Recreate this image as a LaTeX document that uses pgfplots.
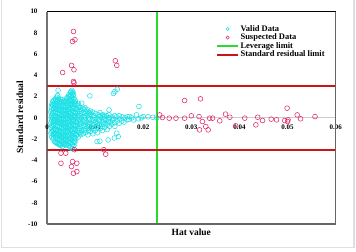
\documentclass[border=0pt]{standalone}
\usepackage{fontspec}
\setmainfont{Liberation Serif}
\usepackage{pgfplots}
\pgfplotsset{compat=1.18}
\definecolor{cyanpt}{RGB}{30,225,230}
\definecolor{magpt}{RGB}{225,40,110}
\definecolor{redln}{RGB}{205,20,20}
\definecolor{grnln}{RGB}{40,220,40}
\pgfplotsset{
 markleg/.style={legend image code/.code={\draw[##1, mark size=1.6bp] plot coordinates {(10.5bp,0bp)};}},
 lineleg/.style={legend image code/.code={\draw[##1] (0bp,0bp) -- (21bp,0bp);}}
}
\begin{document}
\begin{tikzpicture}[x=1bp,y=1bp]
\useasboundingbox (0,0) rectangle (356,252);
\draw[gray!25, line width=1.2bp] (1.5,260) -- (1.5,4.3) -- (354,4.3) -- (354,260);
\begin{axis}[
 at={(47bp,28bp)}, anchor=south west,
 scale only axis, width=288.7bp, height=212.3bp,
 xmin=0, xmax=0.06, ymin=-10, ymax=10,
 axis x line=middle, axis y line=left,
 x axis line style={-, gray!40, line width=1bp},
 y axis line style={-, black!55, line width=1.2bp},
 hide obscured x ticks=false, hide obscured y ticks=false,
 scaled x ticks=false, scaled y ticks=false,
 xtick={0,0.01,0.02,0.03,0.04,0.05,0.06},
 xticklabels={0,0.01,0.02,0.03,0.04,0.05,0.06},
 ytick={-10,-8,-6,-4,-2,0,2,4,6,8,10},
 yticklabels={-10,-8,-6,-4,-2,0,2,4,6,8,10},
 major tick length=0,
 tick label style={font=\fontsize{7}{8}\selectfont\bfseries},
 xticklabel style={yshift=-3bp},
 yticklabel style={xshift=-6bp},
 clip=false,
 unbounded coords=jump,
 legend style={at={(rel axis cs:0.585,0.94)}, anchor=north west, draw=none, fill=none,
   inner sep=0pt, row sep=0pt,
   font=\fontsize{8.5}{9}\selectfont\bfseries,
   nodes={inner ysep=0.4pt, inner xsep=1.5pt, text height=6bp, text depth=1.8bp}},
 legend cell align=left,
]
\addplot[only marks, mark=o, mark size=2.4bp, color=cyanpt, mark options={line width=0.55bp}, markleg]
coordinates {
(0.0008,-1.45)(0.0009,-0.95)(0.0008,-0.5)(0.0009,0.05)(0.0008,0.55)(0.0009,1.0)
(0.0012,-2.0)(0.0013,-1.6)(0.0012,-1.2)(0.0011,-0.8)(0.0013,-0.4)(0.0012,0.0)(0.0011,0.4)(0.0013,0.8)(0.0012,1.2)(0.0012,1.55)
(0.0016,-2.25)(0.0017,-1.8)(0.0016,-1.4)(0.0015,-1.0)(0.0017,-0.6)(0.0016,-0.2)(0.0015,0.2)(0.0017,0.6)(0.0016,1.0)(0.0015,1.4)(0.0017,1.75)
(0.0020,-2.4)(0.0021,-2.0)(0.0020,-1.6)(0.0019,-1.2)(0.0021,-0.8)(0.0020,-0.4)(0.0019,0.0)(0.0021,0.4)(0.0020,0.8)(0.0019,1.2)(0.0021,1.6)(0.0020,1.95)(0.0023,2.6)
(0.0024,-2.5)(0.0025,-2.1)(0.0024,-1.7)(0.0023,-1.3)(0.0025,-0.9)(0.0024,-0.5)(0.0023,-0.1)(0.0025,0.3)(0.0024,0.7)(0.0023,1.1)(0.0025,1.5)(0.0024,1.85)
(0.0028,-2.6)(0.0029,-2.2)(0.0028,-1.8)(0.0027,-1.4)(0.0029,-1.0)(0.0028,-0.6)(0.0027,-0.2)(0.0029,0.2)(0.0028,0.6)(0.0027,1.0)(0.0029,1.4)(0.0028,1.75)
(0.0032,-2.7)(0.0033,-2.3)(0.0032,-1.9)(0.0031,-1.5)(0.0033,-1.1)(0.0032,-0.7)(0.0031,-0.3)(0.0033,0.1)(0.0032,0.5)(0.0031,0.9)(0.0033,1.3)(0.0032,1.7)
(0.0036,-2.5)(0.0037,-2.1)(0.0036,-1.7)(0.0035,-1.3)(0.0037,-0.9)(0.0036,-0.5)(0.0035,-0.1)(0.0037,0.3)(0.0036,0.7)(0.0035,1.1)(0.0037,1.5)
(0.0040,-2.6)(0.0041,-2.2)(0.0040,-1.8)(0.0039,-1.4)(0.0041,-1.0)(0.0040,-0.6)(0.0039,-0.2)(0.0041,0.2)(0.0040,0.6)(0.0039,1.0)(0.0041,1.4)(0.0040,1.8)
(0.0044,-2.4)(0.0045,-2.0)(0.0044,-1.6)(0.0043,-1.2)(0.0045,-0.8)(0.0044,-0.4)(0.0043,0.0)(0.0045,0.4)(0.0044,0.8)(0.0043,1.2)(0.0045,1.6)(0.0044,2.0)
(0.0048,-2.8)(0.0049,-2.4)(0.0048,-2.0)(0.0047,-1.6)(0.0049,-1.2)(0.0048,-0.8)(0.0047,-0.4)(0.0049,0.0)(0.0048,0.4)(0.0047,0.8)(0.0049,1.2)(0.0048,1.6)(0.0047,2.0)(0.0049,2.4)
(0.0052,-2.9)(0.0053,-2.5)(0.0052,-2.1)(0.0051,-1.7)(0.0053,-1.3)(0.0052,-0.9)(0.0051,-0.5)(0.0053,-0.1)(0.0052,0.3)(0.0051,0.7)(0.0053,1.1)(0.0052,1.5)(0.0051,1.9)(0.0053,2.3)(0.0052,2.6)
(0.0056,-2.6)(0.0057,-2.2)(0.0056,-1.8)(0.0055,-1.4)(0.0057,-1.0)(0.0056,-0.6)(0.0055,-0.2)(0.0057,0.2)(0.0056,0.6)(0.0055,1.0)(0.0057,1.4)(0.0056,1.8)(0.0055,2.2)
(0.0060,-2.0)(0.0061,-1.6)(0.0060,-1.2)(0.0059,-0.8)(0.0061,-0.4)(0.0060,0.0)(0.0059,0.4)(0.0061,0.8)(0.0060,1.2)(0.0059,1.55)
(0.0065,-1.8)(0.0066,-1.4)(0.0065,-1.0)(0.0064,-0.6)(0.0066,-0.2)(0.0065,0.2)(0.0064,0.6)(0.0066,1.0)(0.0065,1.35)
(0.0070,-1.6)(0.0071,-1.2)(0.0070,-0.8)(0.0069,-0.4)(0.0071,0.0)(0.0070,0.4)(0.0069,0.8)(0.0072,1.38)
(0.0075,-1.5)(0.0076,-1.1)(0.0075,-0.7)(0.0074,-0.3)(0.0076,0.1)(0.0075,0.5)(0.0074,0.9)
(0.0080,-1.4)(0.0081,-1.0)(0.0080,-0.6)(0.0079,-0.2)(0.0081,0.2)(0.0080,0.6)(0.0079,0.95)
(0.0085,-1.6)(0.0086,-1.2)(0.0085,-0.8)(0.0084,-0.4)(0.0086,0.0)(0.0085,0.4)(0.0084,0.75)
(0.0090,-1.3)(0.0091,-0.9)(0.0090,-0.5)(0.0089,-0.1)(0.0091,0.3)(0.0090,0.65)(0.0089,2.07)
(0.0095,-1.5)(0.0096,-1.0)(0.0095,-0.6)(0.0094,-0.2)(0.0096,0.2)(0.0095,0.55)
(0.0100,-1.2)(0.0101,-0.8)(0.0100,-0.4)(0.0099,0.0)(0.0101,0.4)
(0.0104,-2.23)(0.0105,-1.4)(0.0106,-0.9)(0.0105,-0.5)(0.0104,-0.1)(0.0106,0.3)
(0.0110,-2.2)(0.0111,-1.0)(0.0110,-0.6)(0.0109,-0.2)(0.0111,0.2)(0.0110,0.5)
(0.0115,-1.2)(0.0116,-0.8)(0.0115,-0.4)(0.0114,0.0)(0.0116,0.3)
(0.0120,-0.9)(0.0121,-0.5)(0.0120,-0.1)(0.0119,0.2)
(0.0127,-2.08)(0.0125,-1.1)(0.0126,-0.6)(0.0125,-0.2)(0.0124,0.2)(0.0129,0.75)
(0.0130,-0.8)(0.0131,-0.4)(0.0130,0.0)(0.0129,0.3)
(0.0135,-0.6)(0.0136,-0.2)(0.0135,0.1)(0.0138,2.3)
(0.0140,-1.9)(0.0141,-0.8)(0.0140,-0.45)(0.0139,-0.1)(0.0141,0.2)(0.0141,2.48)
(0.0145,-1.45)(0.0148,-1.76)(0.0146,-0.3)(0.0145,0.1)(0.0146,2.7)
(0.0150,-0.5)(0.0151,-0.1)(0.0150,0.2)
(0.0155,-0.3)(0.0156,0.1)(0.0160,-0.4)(0.0162,0.0)(0.0166,-0.2)(0.0167,0.1)(0.0172,0.12)(0.0170,-0.15)
(0.0176,0.0)(0.0180,-0.2)(0.0186,0.28)(0.0191,1.07)(0.0190,-0.1)(0.0196,0.0)(0.0200,0.12)(0.0210,0.1)(0.0220,0.05)(0.0228,0.0)
(0.0010,-1.8)(0.0010,-1.3)(0.0010,-0.7)(0.0010,-0.25)(0.0010,0.25)(0.0010,0.75)(0.0010,1.25)
(0.0014,-1.9)(0.0014,-1.5)(0.0014,-1.1)(0.0014,-0.7)(0.0014,-0.3)(0.0014,0.1)(0.0014,0.5)(0.0014,0.9)(0.0014,1.3)(0.0014,1.65)
(0.0018,-2.3)(0.0018,-1.9)(0.0018,-1.5)(0.0018,-1.1)(0.0018,-0.7)(0.0018,-0.3)(0.0018,0.1)(0.0018,0.5)(0.0018,0.9)(0.0018,1.3)(0.0018,1.7)
(0.0022,-2.3)(0.0022,-1.9)(0.0022,-1.5)(0.0022,-1.1)(0.0022,-0.7)(0.0022,-0.3)(0.0022,0.1)(0.0022,0.5)(0.0022,0.9)(0.0022,1.3)(0.0022,1.7)(0.0022,2.1)
(0.0026,-2.4)(0.0026,-2.0)(0.0026,-1.6)(0.0026,-1.2)(0.0026,-0.8)(0.0026,-0.4)(0.0026,0.0)(0.0026,0.4)(0.0026,0.8)(0.0026,1.2)(0.0026,1.6)
(0.0030,-2.5)(0.0030,-2.1)(0.0030,-1.7)(0.0030,-1.3)(0.0030,-0.9)(0.0030,-0.5)(0.0030,-0.1)(0.0030,0.3)(0.0030,0.7)(0.0030,1.1)(0.0030,1.5)
(0.0034,-2.5)(0.0034,-2.1)(0.0034,-1.7)(0.0034,-1.3)(0.0034,-0.9)(0.0034,-0.5)(0.0034,-0.1)(0.0034,0.3)(0.0034,0.7)(0.0034,1.1)(0.0034,1.5)
(0.0038,-2.4)(0.0038,-2.0)(0.0038,-1.6)(0.0038,-1.2)(0.0038,-0.8)(0.0038,-0.4)(0.0038,0.0)(0.0038,0.4)(0.0038,0.8)(0.0038,1.2)(0.0038,1.6)
(0.0042,-2.5)(0.0042,-2.1)(0.0042,-1.7)(0.0042,-1.3)(0.0042,-0.9)(0.0042,-0.5)(0.0042,-0.1)(0.0042,0.3)(0.0042,0.7)(0.0042,1.1)(0.0042,1.5)(0.0042,1.9)
(0.0046,-2.6)(0.0046,-2.2)(0.0046,-1.8)(0.0046,-1.4)(0.0046,-1.0)(0.0046,-0.6)(0.0046,-0.2)(0.0046,0.2)(0.0046,0.6)(0.0046,1.0)(0.0046,1.4)(0.0046,1.8)(0.0046,2.2)
(0.0050,-2.7)(0.0050,-2.3)(0.0050,-1.9)(0.0050,-1.5)(0.0050,-1.1)(0.0050,-0.7)(0.0050,-0.3)(0.0050,0.1)(0.0050,0.5)(0.0050,0.9)(0.0050,1.3)(0.0050,1.7)(0.0050,2.1)(0.0050,2.5)
(0.0054,-2.7)(0.0054,-2.3)(0.0054,-1.9)(0.0054,-1.5)(0.0054,-1.1)(0.0054,-0.7)(0.0054,-0.3)(0.0054,0.1)(0.0054,0.5)(0.0054,0.9)(0.0054,1.3)(0.0054,1.7)(0.0054,2.1)(0.0054,2.4)
(0.0058,-2.3)(0.0058,-1.9)(0.0058,-1.5)(0.0058,-1.1)(0.0058,-0.7)(0.0058,-0.3)(0.0058,0.1)(0.0058,0.5)(0.0058,0.9)(0.0058,1.3)(0.0058,1.7)
(0.0063,-1.6)(0.0063,-1.2)(0.0063,-0.8)(0.0063,-0.4)(0.0063,0.0)(0.0063,0.4)(0.0063,0.8)(0.0063,1.2)
(0.0068,-1.4)(0.0068,-1.0)(0.0068,-0.6)(0.0068,-0.2)(0.0068,0.2)(0.0068,0.6)(0.0068,1.0)
(0.0078,-1.2)(0.0078,-0.8)(0.0078,-0.4)(0.0078,0.0)(0.0078,0.4)(0.0078,0.8)
(0.0088,-1.0)(0.0088,-0.6)(0.0088,-0.2)(0.0088,0.2)(0.0088,0.5)
(0.0098,-1.0)(0.0098,-0.6)(0.0098,-0.2)(0.0098,0.2)
(0.0108,-0.7)(0.0108,-0.3)(0.0108,0.1)
(0.0118,-0.6)(0.0118,-0.2)(0.0118,0.1)
(0.0128,-0.4)(0.0128,0.0)
};
\addlegendentry{Valid Data}
\addplot[only marks, mark=o, mark size=2.4bp, color=magpt, mark options={line width=0.55bp}, markleg]
coordinates {
(0.0055,8.14)(0.0053,7.2)(0.0058,7.36)(0.00325,4.27)(0.0051,4.94)(0.0056,4.53)(0.0055,3.43)(0.0056,3.3)(0.0142,5.38)(0.0145,4.94)
(0.0029,-3.33)(0.0039,-3.33)(0.0029,-4.28)(0.0053,-4.12)(0.0062,-4.28)(0.0051,-4.59)(0.0062,-5.06)(0.0055,-5.22)(0.0118,-3.0)(0.0122,-3.43)(0.0057,-3.0)
(0.0234,0.28)(0.0240,0.03)(0.0254,-0.03)(0.0268,-0.03)(0.0286,-0.03)(0.0286,1.63)(0.0319,1.79)(0.0300,0.19)(0.0316,0.12)(0.0323,-0.35)
(0.0317,-1.13)(0.0335,-1.13)(0.0330,-0.82)(0.0338,-0.03)(0.0344,-0.03)(0.0359,-0.28)(0.0371,0.35)(0.0380,0.06)(0.0392,-0.75)(0.0411,-0.03)
(0.0434,-0.66)(0.0438,0.06)(0.0448,-0.25)(0.0466,-0.12)(0.0477,-0.19)(0.0494,-0.25)(0.0501,-0.19)(0.0499,0.91)(0.0520,0.28)(0.0527,-0.09)
(0.0557,0.12)(0.0500,-0.35)
};
\addlegendentry{Suspected Data}
\addplot[line width=2bp, draw={rgb,255:red,40;green,220;blue,40}, mark=none, solid, lineleg]
 coordinates {(0.0229,-10) (0.0229,10)};
\addlegendentry{Leverage limit}
\addplot[line width=2bp, draw={rgb,255:red,205;green,20;blue,20}, mark=none, solid, lineleg]
 coordinates {(0,3) (0.06,3) (0.03,nan) (0,-3) (0.06,-3)};
\addlegendentry{Standard residual limit}
\end{axis}
\draw[black!60, line width=1.2bp] (current axis.south west) -- (current axis.south east) -- (current axis.north east);
\draw[black, line width=1bp] (current axis.north west) -- (current axis.north east);
\node[rotate=90, font=\fontsize{9.5}{11}\selectfont\bfseries] at (20,135) {Standard residual};
\node[font=\fontsize{9.5}{11}\selectfont\bfseries] at (191.3,20) {Hat value};
\end{tikzpicture}
\end{document}
